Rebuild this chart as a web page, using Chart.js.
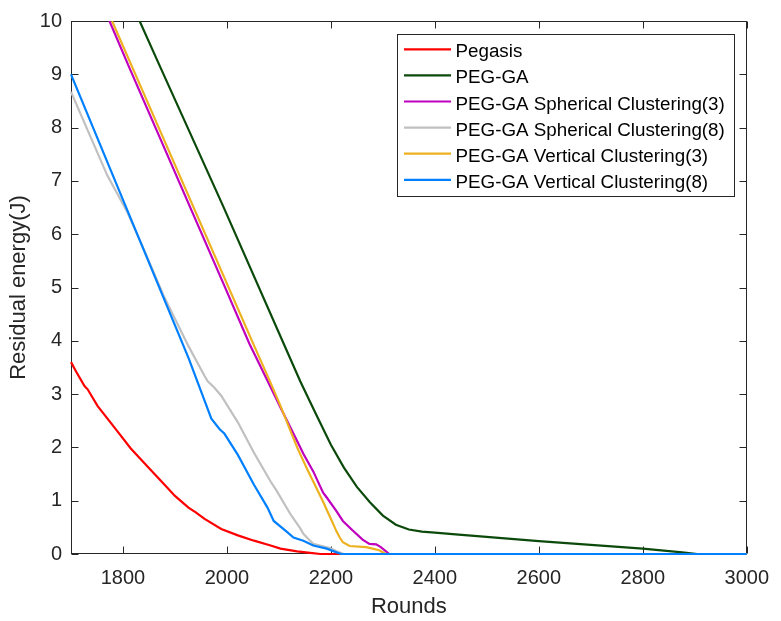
<!DOCTYPE html>
<html>
<head>
<meta charset="utf-8">
<script src="https://cdn.jsdelivr.net/npm/chart.js@4.4.1/dist/chart.umd.min.js"></script>
<style>
html,body{margin:0;padding:0;background:#ffffff;}
#wrap{width:781px;height:621px;position:relative;}
canvas{display:block;}
</style>
</head>
<body>
<div id="wrap"><canvas id="c" width="781" height="621"></canvas></div>
<script>
// ---- data ----
const seriesLabels = [
  'Pegasis',
  'PEG-GA',
  'PEG-GA Spherical Clustering(3)',
  'PEG-GA Spherical Clustering(8)',
  'PEG-GA Vertical Clustering(3)',
  'PEG-GA Vertical Clustering(8)'
];
const seriesColors = ['#ff0000', '#0c4a0c', '#bf00bf', '#c0c0c0', '#edb120', '#0080ff'];

const pegasisX = [1700, 1710, 1726, 1732, 1751, 1783, 1815, 1853, 1880, 1900, 1926, 1940, 1957, 1989, 2021, 2052, 2084, 2103, 2135, 2160, 2180, 3000];
const pegasisY = [3.60, 3.42, 3.15, 3.09, 2.78, 2.38, 1.98, 1.58, 1.30, 1.09, 0.87, 0.78, 0.66, 0.47, 0.35, 0.25, 0.16, 0.10, 0.05, 0.02, 0, 0];

const pegGaX = [1832, 1872, 1992, 2109, 2141, 2170, 2200, 2225, 2250, 2275, 2300, 2325, 2350, 2375, 2400, 2440, 2600, 2800, 2876, 2905, 3000];
const pegGaY = [10, 9.13, 6.54, 3.95, 3.24, 2.65, 2.05, 1.62, 1.26, 0.97, 0.72, 0.55, 0.46, 0.42, 0.40, 0.37, 0.24, 0.10, 0.03, 0, 0];

const sc3X = [1774, 1812, 1992, 2043, 2078, 2103, 2135, 2147, 2166, 2185, 2192, 2211, 2223, 2242, 2261, 2274, 2287, 2296, 2306, 2312, 3000];
const sc3Y = [10, 9.13, 5.10, 3.95, 3.25, 2.75, 2.12, 1.88, 1.55, 1.15, 1.06, 0.80, 0.62, 0.44, 0.27, 0.19, 0.18, 0.13, 0.05, 0, 0];

const sc8X = [1700, 1770, 1808, 1840, 1878, 1926, 1957, 1963, 1976, 1989, 2021, 2052, 2084, 2096, 2116, 2122, 2141, 2147, 2160, 2166, 2179, 2198, 2211, 2225, 3000];
const sc8Y = [8.67, 7.10, 6.42, 5.72, 4.85, 3.90, 3.34, 3.24, 3.12, 2.97, 2.47, 1.90, 1.36, 1.18, 0.85, 0.75, 0.48, 0.38, 0.25, 0.19, 0.16, 0.11, 0.05, 0, 0];

const vc3X = [1779, 1818, 1992, 2049, 2084, 2103, 2135, 2154, 2166, 2185, 2192, 2211, 2217, 2223, 2236, 2268, 2280, 2293, 2302, 2308, 3000];
const vc3Y = [10, 9.13, 5.25, 3.98, 3.21, 2.78, 2.00, 1.60, 1.36, 0.98, 0.83, 0.42, 0.31, 0.22, 0.15, 0.13, 0.10, 0.07, 0.02, 0, 0];

const vc8X = [1700, 1926, 1970, 1986, 1995, 2021, 2052, 2078, 2090, 2116, 2128, 2147, 2166, 2192, 2211, 2220, 3000];
const vc8Y = [9.00, 3.68, 2.54, 2.34, 2.26, 1.86, 1.30, 0.87, 0.62, 0.41, 0.31, 0.25, 0.16, 0.10, 0.03, 0, 0];

const xTickValues = [1800, 2000, 2200, 2400, 2600, 2800, 3000];
const yTickValues = [0, 1, 2, 3, 4, 5, 6, 7, 8, 9, 10];
const xTitle = 'Rounds';
const yTitle = 'Residual energy(J)';

// ---- build chart ----
const FONT = "'Liberation Sans', Arial, Helvetica, sans-serif";
const INK = '#262626';
const seriesX = [pegasisX, pegGaX, sc3X, sc8X, vc3X, vc8X];
const seriesY = [pegasisY, pegGaY, sc3Y, sc8Y, vc3Y, vc8Y];

const datasets = seriesLabels.map((label, i) => ({
  label,
  data: seriesX[i].map((x, k) => ({x, y: seriesY[i][k]})),
  borderColor: seriesColors[i],
  backgroundColor: seriesColors[i],
  borderWidth: 2.2,
  pointRadius: 0,
  tension: 0,
  fill: false,
  clip: {left: 2, top: 0, right: 2, bottom: 3},
  order: seriesLabels.length - 1 - i
}));

const TL = 7;
const axesBox = {
  id: 'axesBox',
  beforeDatasetsDraw(chart) {
    const {ctx, chartArea: a, scales: {x, y}} = chart;
    const L = Math.round(a.left) + 0.5, R = Math.round(a.right) - 0.5;
    const T = Math.round(a.top) + 0.5, B = Math.round(a.bottom) - 0.5;
    ctx.save();
    ctx.strokeStyle = INK;
    ctx.lineWidth = 1;
    ctx.beginPath();
    xTickValues.forEach(v => {
      const p = Math.round(x.getPixelForValue(v)) + 0.5;
      ctx.moveTo(p, B); ctx.lineTo(p, B - TL);
      ctx.moveTo(p, T); ctx.lineTo(p, T + TL);
    });
    yTickValues.forEach(v => {
      const p = Math.round(y.getPixelForValue(v)) + 0.5;
      ctx.moveTo(L, p); ctx.lineTo(L + TL, p);
      ctx.moveTo(R, p); ctx.lineTo(R - TL, p);
    });
    ctx.stroke();
    ctx.strokeRect(L, T, R - L, B - T);
    ctx.restore();
  }
};

const boxLegend = {
  id: 'boxLegend',
  afterDraw(chart) {
    const ctx = chart.ctx;
    const bx = 397.5, by = 34.5, bw = 337, bh = 162;
    ctx.save();
    ctx.fillStyle = '#ffffff';
    ctx.fillRect(bx, by, bw, bh);
    ctx.strokeStyle = INK;
    ctx.lineWidth = 1;
    ctx.strokeRect(bx, by, bw, bh);
    ctx.font = '18.8px ' + FONT;
    ctx.textBaseline = 'alphabetic';
    ctx.textAlign = 'left';
    chart.data.datasets.forEach((ds, i) => {
      const rowY = 49.3 + 26.1 * i;
      ctx.strokeStyle = ds.borderColor;
      ctx.lineWidth = 2.2;
      ctx.beginPath();
      ctx.moveTo(404, rowY);
      ctx.lineTo(451, rowY);
      ctx.stroke();
      ctx.fillStyle = '#000000';
      ctx.fillText(ds.label, 455.5, rowY + 8);
    });
    ctx.restore();
  }
};

new Chart(document.getElementById('c'), {
  type: 'line',
  data: {datasets},
  plugins: [axesBox, boxLegend],
  options: {
    responsive: false,
    animation: false,
    devicePixelRatio: 1,
    layout: {padding: {left: 0, right: 26, top: 13, bottom: 0}},
    plugins: {legend: {display: false}, tooltip: {enabled: false}},
    scales: {
      x: {
        type: 'linear',
        min: 1700,
        max: 3000,
        afterBuildTicks: s => { s.ticks = xTickValues.map(v => ({value: v})); },
        afterFit: s => { s.height = 67; },
        grid: {display: false, drawTicks: false},
        border: {display: false},
        ticks: {
          font: {family: FONT, size: 20},
          color: INK,
          padding: 12,
          maxRotation: 0,
          autoSkip: false,
          callback: v => String(v)
        },
        title: {
          display: true,
          text: xTitle,
          font: {family: FONT, size: 22},
          color: INK,
          padding: {top: 0, bottom: 1}
        }
      },
      y: {
        type: 'linear',
        min: 0,
        max: 10,
        afterBuildTicks: s => { s.ticks = yTickValues.map(v => ({value: v})); },
        afterFit: s => { s.width = 71; },
        grid: {display: false, drawTicks: false},
        border: {display: false},
        ticks: {
          font: {family: FONT, size: 20},
          color: INK,
          padding: 9,
          autoSkip: false,
          callback: v => String(v)
        },
        title: {
          display: true,
          text: yTitle,
          font: {family: FONT, size: 22},
          color: INK,
          padding: {top: 6, bottom: 0}
        }
      }
    }
  }
});
</script>
</body>
</html>
